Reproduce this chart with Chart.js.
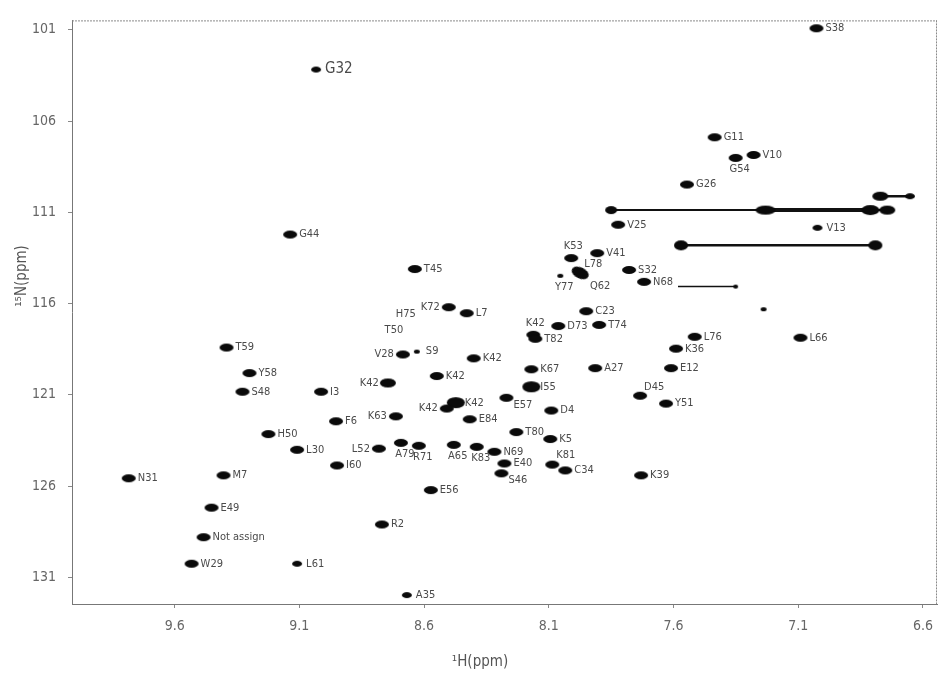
<!DOCTYPE html>
<html><head><meta charset="utf-8">
<script src="https://cdn.jsdelivr.net/npm/chart.js@4"></script>
<style>html,body{margin:0;padding:0;background:#fff}canvas{display:block}</style>
</head><body>
<canvas id="c" width="944" height="686"></canvas>
<script>
// ---- data ----
const peakLabels = ["S38","G32","G11","G54","V10","G26","V25","V13","G44","K53","V41","L78","Y77","Q62","S32","N68","T45","K72","L7","H75","T50","C23","D73","T74","K42","T82","L76","L66","K36","T59","V28","S9","K42","Y58","K67","A27","E12","K42","K42","I55","S48","I3","D45","E57","K42","Y51","K42","D4","K63","E84","F6","T80","H50","K5","A79","R71","A65","K83","L52","L30","N69","E40","K81","I60","C34","S46","K39","M7","N31","E56","E49","R2","Not assign","W29","L61","A35",""];
const peakH = [7.027,9.033,7.435,7.351,7.279,7.546,7.822,7.023,9.137,8.010,7.906,7.974,8.054,7.894,7.778,7.718,8.637,8.501,8.429,8.673,8.721,7.950,8.062,7.898,8.162,8.154,7.515,7.091,7.590,9.392,8.685,8.629,8.401,9.300,8.170,7.914,7.610,8.549,8.745,8.170,9.328,9.013,7.734,8.270,8.473,7.630,8.509,8.090,8.713,8.417,8.953,8.230,9.224,8.094,8.693,8.621,8.481,8.389,8.781,9.109,8.318,8.278,8.086,8.949,8.034,8.290,7.730,9.404,9.784,8.573,9.452,8.769,9.484,9.532,9.109,8.669,7.239];
const peakN = [100.92,103.18,106.89,108.02,107.86,109.48,111.68,111.85,112.22,113.51,113.24,114.32,114.48,115.02,114.16,114.81,114.11,116.20,116.53,116.58,117.44,116.42,117.23,117.17,117.71,117.93,117.82,117.87,118.47,118.41,118.79,118.63,119.00,119.81,119.60,119.54,119.54,119.97,120.35,120.56,120.83,120.83,121.05,121.16,121.43,121.48,121.75,121.86,122.18,122.34,122.45,123.04,123.15,123.42,123.63,123.79,123.74,123.85,123.95,124.01,124.12,124.76,124.82,124.87,125.14,125.30,125.41,125.41,125.57,126.22,127.18,128.10,128.80,130.25,130.25,131.97,116.31];

// broadened (streaked) peaks
const streakA_H = [7.850, 7.231, 6.811, 6.743];
const streakA_N = [110.88, 110.88, 110.88, 110.88];
const streakB_H = [6.771, 6.652];
const streakB_N = [110.12, 110.12];
const streakC_H = [7.570, 6.791];
const streakC_N = [112.81, 112.81];
const streakD_H = [7.582, 7.351];
const streakD_N = [115.07, 115.07];

const xTicks = [9.6, 9.1, 8.6, 8.1, 7.6, 7.1, 6.6];
const yTicks = [101, 106, 111, 116, 121, 126, 131];
const xTitle = "\u00B9H(ppm)";
const yTitle = "\u00B9\u2075N(ppm)";

// ---- styles (label placement & marker size per peak) ----
const labelSide = ["r","r","r","b","r","r","r","r","r","a","r","ar","b","c","r","r","r","l","r","c","c","r","r","r","a","r","r","r","r","r","l","r","r","r","r","r","r","r","l","r","r","r","ar","br","r","r","l","r","l","r","r","r","r","r","b","b","b","b","l","r","r","r","ar","r","r","br","r","r","r","r","r","r","r","r","r","r","r"];
const markerSize = ["n","s","n","n","n","n","n","s","n","n","n","L","t","z","n","n","n","n","n","z","z","n","n","n","n","n","n","n","n","n","n","t","n","n","n","n","n","n","m","L","n","n","n","n","L","n","n","n","n","n","n","n","n","n","n","n","n","n","n","n","n","n","n","n","n","n","n","n","n","n","n","n","n","n","s","s","t"];

function ellipse(w, h) {
  const c = document.createElement('canvas');
  c.width = w + 2; c.height = h + 2;
  const g = c.getContext('2d');
  g.fillStyle = '#0a0a0a';
  g.beginPath();
  g.ellipse((w + 2) / 2, (h + 2) / 2, w / 2, h / 2, 0, 0, Math.PI * 2);
  g.fill();
  return c;
}
const markers = { n: ellipse(14, 8), s: ellipse(10, 6), m: ellipse(16, 9), L: ellipse(18, 11), t: ellipse(6, 4) };

const LABEL_FONT = "11px 'Liberation Sans Narrow', 'DejaVu Sans Condensed', sans-serif";
const TICK_FONT = { family: "'Liberation Sans Narrow', 'DejaVu Sans Condensed', sans-serif", size: 14 };

const labelPlugin = {
  id: 'peakLabels',
  afterDatasetsDraw(chart) {
    const meta = chart.getDatasetMeta(0);
    const ctx = chart.ctx;
    ctx.save();
    ctx.fillStyle = '#4a4a4a';
    meta.data.forEach((pt, i) => {
      const txt = peakLabels[i];
      if (!txt) return;
      ctx.font = txt === 'G32' ? "15px 'Liberation Sans Narrow', 'DejaVu Sans Condensed', sans-serif" : LABEL_FONT;
      let x = pt.x, y = pt.y, align = 'left';
      switch (labelSide[i]) {
        case 'r': x += 9; break;
        case 'l': x -= 9; align = 'right'; break;
        case 'a': y -= 12; align = 'center'; x += 2; break;
        case 'b': y += 11; x += 4; align = 'center'; break;
        case 'ar': x += 4; y -= 9; break;
        case 'br': x += 7; y += 7; break;
        case 'c': align = 'center'; break;
      }
      ctx.textAlign = align;
      ctx.textBaseline = 'middle';
      ctx.fillText(txt, x, y);
    });
    ctx.restore();
  }
};

const framePlugin = {
  id: 'frame',
  afterDraw(chart) {
    const a = chart.chartArea, ctx = chart.ctx;
    ctx.save();
    ctx.strokeStyle = '#8a8a8a';
    ctx.lineWidth = 1;
    ctx.setLineDash([2, 1]);
    ctx.beginPath();
    ctx.moveTo(a.left, a.top + 0.5); ctx.lineTo(a.right, a.top + 0.5);
    ctx.moveTo(a.right - 0.5, a.top); ctx.lineTo(a.right - 0.5, a.bottom);
    ctx.stroke();
    ctx.setLineDash([]);
    ctx.fillStyle = '#555';
    ctx.font = "15px 'Liberation Sans Narrow', 'DejaVu Sans Condensed', sans-serif";
    ctx.textAlign = 'center'; ctx.textBaseline = 'middle';
    ctx.fillText(xTitle, 480, 662);
    ctx.translate(22, 276);
    ctx.rotate(-Math.PI / 2);
    ctx.fillText(yTitle, 0, 0);
    ctx.restore();
  }
};

const toPts = (hs, ns) => hs.map((h, i) => ({ x: h, y: ns[i] }));

const streakStyle = (hs, ns, sizes, widths) => ({
  data: toPts(hs, ns),
  showLine: true,
  borderColor: '#111',
  borderWidth: 2,
  segment: { borderWidth: c => widths[c.p0DataIndex] },
  pointStyle: sizes.map(s => s ? ellipse(s[0], s[1]) : 'circle'),
  pointRadius: sizes.map(s => s ? 5 : 0),
  order: 1
});

new Chart(document.getElementById('c'), {
  type: 'scatter',
  data: {
    datasets: [
      {
        data: toPts(peakH, peakN),
        pointStyle: c => (c.dataIndex === undefined ? 'circle' : (markerSize[c.dataIndex] === 'z' ? 'circle' : markers[markerSize[c.dataIndex]])),
        pointRadius: c => (c.dataIndex !== undefined && markerSize[c.dataIndex] === 'z') ? 0 : 5,
        rotation: c => (c.dataIndex !== undefined && peakLabels[c.dataIndex] === 'L78') ? 25 : 0,
        order: 0
      },
      streakStyle(streakA_H, streakA_N, [[12, 8], [20, 9], [18, 10], [16, 9]], [2, 4, 2]),
      streakStyle(streakB_H, streakB_N, [[16, 9], [10, 6]], [2.5]),
      streakStyle(streakC_H, streakC_N, [[14, 10], [14, 10]], [2.5]),
      streakStyle(streakD_H, streakD_N, [null, [5, 4]], [1.5])
    ]
  },
  options: {
    responsive: false,
    animation: false,
    layout: { padding: { left: 8, right: 4, top: 10, bottom: 0 } },
    plugins: { legend: { display: false }, tooltip: { enabled: false } },
    scales: {
      x: {
        type: 'linear', reverse: true, min: 6.5437, max: 10.0115,
        afterBuildTicks: s => { s.ticks = xTicks.map(v => ({ value: v })); },
        afterFit: s => { s.height = 82; },
        grid: { drawOnChartArea: false, tickLength: 4, color: '#888' },
        border: { color: '#777' },
        ticks: { color: '#666', font: TICK_FONT, padding: 10, maxRotation: 0, callback: v => v.toFixed(1) }
      },
      y: {
        type: 'linear', reverse: true, min: 100.489, max: 132.458,
        afterBuildTicks: s => { s.ticks = yTicks.map(v => ({ value: v })); },
        afterFit: s => { s.width = 64; },
        grid: { drawOnChartArea: false, tickLength: 4, color: '#888' },
        border: { color: '#777' },
        ticks: { color: '#666', font: TICK_FONT, padding: 12, callback: v => String(v) }
      }
    }
  },
  plugins: [labelPlugin, framePlugin]
});
</script>
</body></html>
